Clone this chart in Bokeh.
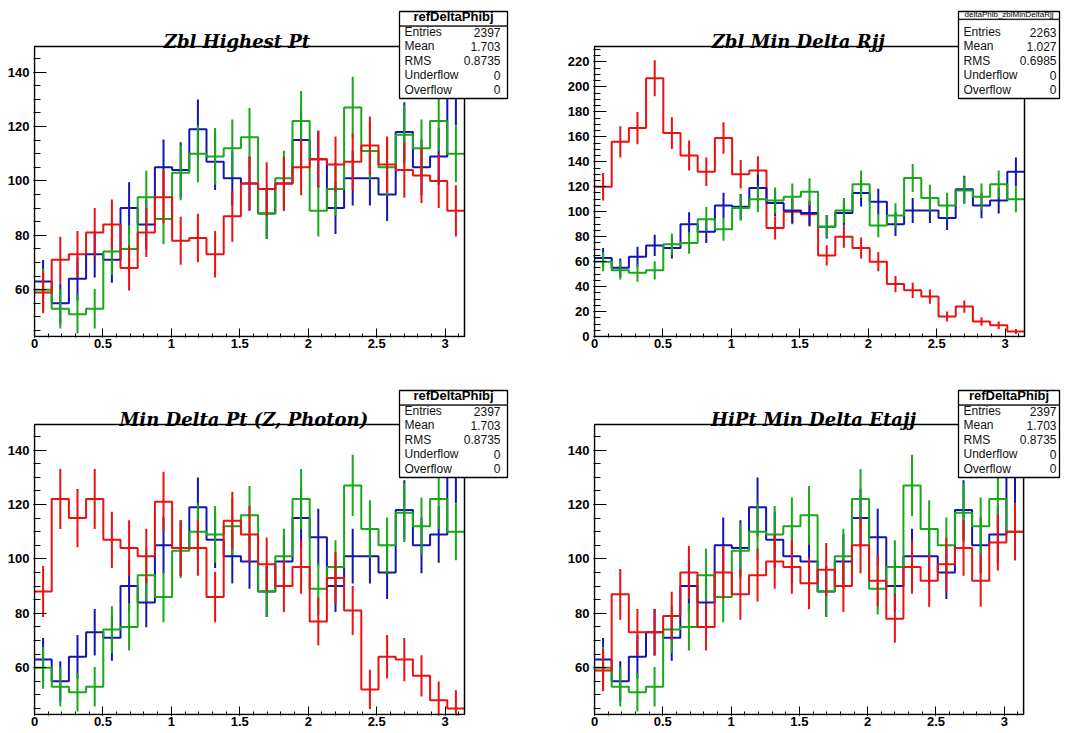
import numpy as np
from bokeh.plotting import figure
from bokeh.layouts import column, row
from bokeh.models import FixedTicker, Label, BoxAnnotation
from bokeh.embed import file_html
from bokeh.resources import INLINE

# ---------------- data ----------------
x_min, x_max = 0.0, float(np.pi)
n_bins = 25
x_ticks = [0, 0.5, 1, 1.5, 2, 2.5, 3]
x_tick_labels = ["0", "0.5", "1", "1.5", "2", "2.5", "3"]
y_ticks_small = [60, 80, 100, 120, 140]
y_ticks_large = [0, 20, 40, 60, 80, 100, 120, 140, 160, 180, 200, 220]

blue_ref = [63, 55, 64, 73, 71, 90, 84, 105, 104, 119, 107, 101, 99, 88, 99, 115, 108, 90, 101, 101, 95, 118, 105, 109, 132]
green_ref = [60, 53, 51, 53, 74, 75, 94, 86, 103, 110, 109, 112, 116, 88, 101, 122, 89, 97, 127, 111, 105, 117, 112, 122, 110]
red_zbl_highest_pt = [59, 71, 73, 81, 84, 68, 81, 94, 78, 79, 73, 87, 99, 97, 99, 105, 108, 106, 107, 113, 106, 104, 102, 100, 89]
red_zbl_min_delta_rjj = [120, 156, 167, 207, 163, 145, 132, 159, 130, 133, 87, 100, 98, 65, 80, 71, 60, 42, 37, 32, 16, 24, 12, 9, 4]
red_min_delta_pt = [88, 122, 115, 122, 107, 104, 101, 121, 104, 104, 86, 114, 109, 98, 90, 97, 77, 93, 81, 52, 64, 63, 57, 48, 45]
red_hipt_min_delta_etajj = [59, 87, 73, 73, 79, 95, 75, 95, 87, 94, 99, 97, 91, 96, 90, 105, 92, 78, 97, 92, 98, 104, 92, 106, 110]

titles = ["Zbl Highest Pt", "Zbl Min Delta Rjj", "Min Delta Pt (Z, Photon)", "HiPt Min Delta Etajj"]
stat_names = ["Entries", "Mean", "RMS", "Underflow", "Overflow"]
stat_headers = ["refDeltaPhibj", "deltaPhib_zblMinDeltaRjj", "refDeltaPhibj", "refDeltaPhibj"]
stat_entries = ["2397", "2263", "2397", "2397"]
stat_means = ["1.703", "1.027", "1.703", "1.703"]
stat_rms = ["0.8735", "0.6985", "0.8735", "0.8735"]
stat_underflow = ["0", "0", "0", "0"]
stat_overflow = ["0", "0", "0", "0"]

# ---------------- style ----------------
BLUE = "#1414b4"
GREEN = "#18a818"
RED = "#ee1010"

edges = np.linspace(x_min, x_max, n_bins + 1)
centers = 0.5 * (edges[:-1] + edges[1:])

# layout geometry in page pixels: figure origin/size, visible frame (left, top, width, height)
specs = [
    dict(origin=(0, 0), w=564, h=382, frame=(34, 46, 430, 290), yr=(42.8, 149.4),
         yt=y_ticks_small, title_xy=(236.5, 40.7), box=(399, 507, 11, 98), head_y=16.4, sep_y=25.3,
         rows=[31.7, 45.7, 60.0, 74.7, 89.3], nx=404, vx=500, head_size="13px", head_style="bold",
         series=[(blue_ref, BLUE), (green_ref, GREEN), (red_zbl_highest_pt, RED)]),
    dict(origin=(564, 0), w=500, h=382, frame=(594, 46, 430, 290), yr=(0.0, 232.4),
         yt=y_ticks_large, title_xy=(797.7, 40.7), box=(958, 1059, 11, 98), head_y=14.0, sep_y=18.6,
         rows=[31.7, 45.7, 60.0, 74.7, 89.3], nx=963, vx=1056, head_size="8px", head_style="normal",
         series=[(red_zbl_min_delta_rjj, RED), (blue_ref, BLUE), (green_ref, GREEN)]),
    dict(origin=(0, 382), w=564, h=350, frame=(34, 424, 430, 290), yr=(42.8, 149.4),
         yt=y_ticks_small, title_xy=(243.3, 419.3), box=(399, 507, 390, 477), head_y=395.4, sep_y=404.3,
         rows=[410.7, 424.7, 439.0, 453.7, 468.3], nx=404, vx=500, head_size="13px", head_style="bold",
         series=[(blue_ref, BLUE), (green_ref, GREEN), (red_min_delta_pt, RED)]),
    dict(origin=(564, 382), w=500, h=350, frame=(593, 424, 430, 290), yr=(42.8, 149.4),
         yt=y_ticks_small, title_xy=(813.0, 419.3), box=(958, 1059, 390, 477), head_y=395.4, sep_y=404.3,
         rows=[410.7, 424.7, 439.0, 453.7, 468.3], nx=963, vx=1056, head_size="13px", head_style="bold",
         series=[(blue_ref, BLUE), (green_ref, GREEN), (red_hipt_min_delta_etajj, RED)]),
]


def build(i, s):
    y0, y1 = s["yr"]
    fl, ft, fw, fh = s["frame"]
    ox, oy = s["origin"]
    W, H = s["w"], s["h"]
    kx = fw / (x_max - x_min)
    ky = fh / (y1 - y0)
    # plotting area extends up to the figure top and right edge so that the
    # title and statistics box (drawn as annotations) are not clipped
    xr = (x_min - 1.0 / kx, x_max + (ox + W - (fl + fw)) / kx)
    yr = (y0 - 1.0 / ky, y1 + (ft - oy) / ky)
    p = figure(width=W, height=H, x_range=xr, y_range=yr,
               output_backend="svg", toolbar_location=None, title=None,
               min_border_left=fl - 1 - ox, min_border_right=0,
               min_border_top=0, min_border_bottom=oy + H - (ft + fh + 1))
    p.background_fill_color = "white"
    p.border_fill_color = "white"
    p.outline_line_color = None
    p.grid.visible = False

    for vals, col in s["series"]:
        v = np.asarray(vals, dtype=float)
        err = np.sqrt(v)
        p.step(x=edges, y=np.append(v, v[-1]), mode="after", line_color=col, line_width=2)
        p.segment(x0=centers, y0=v - err, x1=centers, y1=v + err, line_color=col, line_width=2)

    # visible frame of the histogram pad
    p.quad(left=[x_min], right=[x_max], bottom=[y0], top=[y1], fill_color=None,
           line_color="black", line_width=1.5)

    p.xaxis.ticker = FixedTicker(ticks=x_ticks, minor_ticks=[round(0.1 * k, 1) for k in range(32)])
    p.xaxis.major_label_overrides = {t: l for t, l in zip(x_ticks, x_tick_labels)}
    p.yaxis.ticker = FixedTicker(ticks=s["yt"], minor_ticks=[m for m in range(0, 240, 5) if y0 <= m <= y1])
    for ax in (p.xaxis[0], p.yaxis[0]):
        ax.major_tick_out = 0
        ax.minor_tick_out = 0
        ax.axis_line_color = None
        ax.major_tick_line_color = "black"
        ax.minor_tick_line_color = "black"
        ax.major_label_text_font = "Liberation Sans"
        ax.major_label_text_font_style = "bold"
        ax.major_label_text_font_size = "13px"
        ax.major_label_text_color = "black"
    p.xaxis.major_tick_in = 9
    p.xaxis.minor_tick_in = 4
    p.xaxis.major_label_standoff = 1
    p.yaxis.major_tick_in = 13
    p.yaxis.minor_tick_in = 7
    p.yaxis.major_label_standoff = 4

    def cx(px):
        return px - ox

    def cy(py):
        return py - oy

    u = dict(x_units="canvas", y_units="canvas")
    bu = dict(left_units="canvas", right_units="canvas", top_units="canvas", bottom_units="canvas")

    tx, ty = s["title_xy"]
    p.add_layout(Label(x=cx(tx), y=cy(ty), text=titles[i], text_font="DejaVu Serif",
                       text_font_style="bold italic", text_font_size="18px",
                       text_align="center", text_baseline="alphabetic", text_color="black", **u))

    bl, br, bt, bb = s["box"]
    p.add_layout(BoxAnnotation(left=cx(bl), right=cx(br), top=cy(bt), bottom=cy(bb),
                               fill_color="white", fill_alpha=1.0, line_color="black",
                               line_width=1.3, line_alpha=1.0, **bu))
    p.add_layout(BoxAnnotation(left=cx(bl), right=cx(br), top=cy(s["sep_y"]), bottom=cy(s["sep_y"]) + 0.5,
                               fill_alpha=0.0, line_color="black", line_width=0.8, line_alpha=1.0, **bu))
    p.add_layout(Label(x=cx((bl + br) / 2), y=cy(s["head_y"]), text=stat_headers[i],
                       text_font="Liberation Sans", text_font_style=s["head_style"],
                       text_font_size=s["head_size"], text_align="center", text_baseline="middle",
                       text_color="black", **u))
    values = [stat_entries[i], stat_means[i], stat_rms[i], stat_underflow[i], stat_overflow[i]]
    for name, val, ry in zip(stat_names, values, s["rows"]):
        p.add_layout(Label(x=cx(s["nx"]), y=cy(ry), text=name, text_font="Liberation Sans",
                           text_font_size="12px", text_align="left", text_baseline="middle",
                           text_color="#111111", **u))
        p.add_layout(Label(x=cx(s["vx"]), y=cy(ry), text=val, text_font="Liberation Sans",
                           text_font_size="12px", text_align="right", text_baseline="middle",
                           text_color="#111111", **u))
    return p


figs = [build(i, s) for i, s in enumerate(specs)]
layout = column(row(figs[0], figs[1], spacing=0), row(figs[2], figs[3], spacing=0), spacing=0)

open("out.html", "w").write(file_html(layout, INLINE))
